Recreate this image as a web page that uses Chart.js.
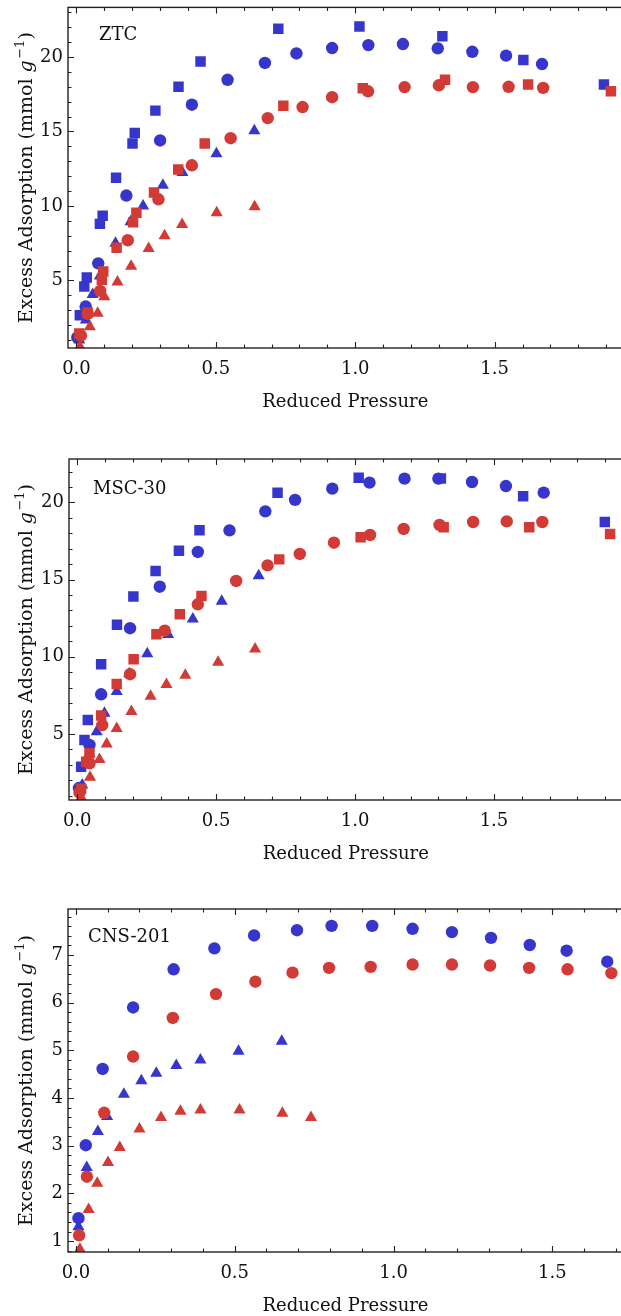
<!DOCTYPE html>
<html>
<head>
<meta charset="utf-8">
<script src="https://cdn.jsdelivr.net/npm/chart.js@4.4.1/dist/chart.umd.min.js"></script>
<style>
  html, body { margin: 0; padding: 0; background: #fff; }
  body { width: 621px; height: 1316px; position: relative; overflow: hidden; }
  .panel { position: absolute; left: 0; width: 630px; }
</style>
</head>
<body>
<div class="panel" style="top:0;height:420px"><canvas id="ztcChart" width="630" height="420"></canvas></div>
<div class="panel" style="top:440px;height:430px"><canvas id="mscChart" width="630" height="430"></canvas></div>
<div class="panel" style="top:890px;height:426px"><canvas id="cnsChart" width="630" height="426"></canvas></div>
<script>
// [reduced pressure, excess adsorption] pairs

// ZTC
const ztcBlueCircles = [[0.003, 1.18], [0.033, 3.25], [0.078, 6.15], [0.179, 10.7], [0.30, 14.4], [0.414, 16.8], [0.542, 18.47], [0.676, 19.6], [0.789, 20.24], [0.917, 20.6], [1.047, 20.8], [1.171, 20.87], [1.296, 20.58], [1.42, 20.35], [1.541, 20.09], [1.67, 19.53]];
const ztcBlueSquares = [[0.012, 2.67], [0.028, 4.6], [0.037, 5.2], [0.084, 8.8], [0.094, 9.35], [0.142, 11.9], [0.201, 14.2], [0.209, 14.9], [0.283, 16.4], [0.366, 18.0], [0.445, 19.7], [0.724, 21.9], [1.015, 22.05], [1.3125, 21.4], [1.603, 19.8], [1.892, 18.15]];
const ztcBlueTriangles = [[0.01, 1.0], [0.034, 2.35], [0.058, 4.05], [0.084, 5.3], [0.14, 7.5], [0.194, 8.95], [0.239, 10.0], [0.31, 11.4], [0.38, 12.25], [0.502, 13.5], [0.638, 15.05]];
const ztcRedCircles = [[0.016, 1.3], [0.04, 2.75], [0.085, 4.3], [0.184, 7.7], [0.294, 10.45], [0.414, 12.73], [0.553, 14.55], [0.686, 15.9], [0.811, 16.64], [0.917, 17.3], [1.046, 17.7], [1.177, 17.98], [1.30, 18.1], [1.422, 17.98], [1.55, 18.0], [1.674, 17.93]];
const ztcRedSquares = [[0.01, 1.44], [0.04, 2.85], [0.091, 5.05], [0.096, 5.6], [0.144, 7.2], [0.203, 8.9], [0.215, 9.55], [0.278, 10.9], [0.365, 12.45], [0.46, 14.2], [0.742, 16.73], [1.027, 17.9], [1.322, 18.47], [1.62, 18.15], [1.917, 17.7]];
const ztcRedTriangles = [[0.0125, 0.55], [0.048, 1.9], [0.076, 2.8], [0.1, 3.9], [0.147, 4.9], [0.196, 5.95], [0.259, 7.15], [0.316, 8.0], [0.379, 8.75], [0.503, 9.55], [0.639, 9.95]];

// MSC-30
const mscBlueCircles = [[0.006, 1.5], [0.044, 4.29], [0.086, 7.57], [0.19, 11.85], [0.297, 14.54], [0.434, 16.79], [0.548, 18.19], [0.677, 19.42], [0.784, 20.16], [0.918, 20.89], [1.052, 21.28], [1.178, 21.54], [1.30, 21.54], [1.421, 21.32], [1.543, 21.06], [1.679, 20.63]];
const mscBlueSquares = [[0.014, 2.88], [0.026, 4.61], [0.038, 5.9], [0.086, 9.51], [0.143, 12.08], [0.202, 13.9], [0.282, 15.56], [0.366, 16.87], [0.44, 18.2], [0.721, 20.63], [1.013, 21.6], [1.309, 21.55], [1.605, 20.4], [1.899, 18.73]];
const mscBlueTriangles = [[0.018, 1.7], [0.044, 3.72], [0.07, 5.15], [0.098, 6.35], [0.142, 7.75], [0.187, 8.9], [0.252, 10.2], [0.327, 11.45], [0.416, 12.45], [0.52, 13.6], [0.653, 15.25]];
const mscRedCircles = [[0.008, 1.2], [0.044, 3.1], [0.09, 5.58], [0.19, 8.87], [0.315, 11.69], [0.434, 13.4], [0.572, 14.91], [0.685, 15.92], [0.801, 16.66], [0.924, 17.39], [1.054, 17.89], [1.175, 18.28], [1.304, 18.54], [1.425, 18.73], [1.546, 18.77], [1.674, 18.73]];
const mscRedSquares = [[0.014, 1.45], [0.032, 3.2], [0.044, 3.75], [0.086, 6.2], [0.142, 8.24], [0.203, 9.84], [0.285, 11.46], [0.369, 12.75], [0.447, 13.94], [0.727, 16.31], [1.02, 17.74], [1.319, 18.39], [1.627, 18.39], [1.918, 17.95]];
const mscRedTriangles = [[0.014, 0.88], [0.046, 2.2], [0.08, 3.35], [0.106, 4.35], [0.142, 5.35], [0.195, 6.45], [0.264, 7.45], [0.321, 8.2], [0.389, 8.8], [0.507, 9.65], [0.64, 10.5]];

// CNS-201 (no square series)
const cnsBlueCircles = [[0.008, 1.48], [0.031, 3.01], [0.084, 4.61], [0.18, 5.9], [0.3075, 6.7], [0.436, 7.14], [0.561, 7.41], [0.696, 7.52], [0.805, 7.61], [0.933, 7.61], [1.06, 7.55], [1.184, 7.48], [1.307, 7.36], [1.429, 7.21], [1.545, 7.09], [1.673, 6.86]];
const cnsBlueTriangles = [[0.008, 1.3], [0.034, 2.54], [0.069, 3.3], [0.098, 3.61], [0.151, 4.08], [0.206, 4.36], [0.253, 4.52], [0.316, 4.68], [0.392, 4.8], [0.512, 4.98], [0.648, 5.19]];
const cnsRedCircles = [[0.01, 1.12], [0.0345, 2.35], [0.089, 3.69], [0.18, 4.87], [0.305, 5.68], [0.441, 6.18], [0.565, 6.44], [0.682, 6.63], [0.797, 6.73], [0.928, 6.75], [1.06, 6.8], [1.184, 6.8], [1.304, 6.78], [1.427, 6.73], [1.548, 6.7], [1.686, 6.62]];
const cnsRedTriangles = [[0.0125, 0.83], [0.04, 1.66], [0.067, 2.21], [0.101, 2.65], [0.138, 2.96], [0.2, 3.35], [0.268, 3.59], [0.329, 3.72], [0.392, 3.75], [0.515, 3.75], [0.65, 3.68], [0.74, 3.59]];

// tick labels
const pressureTicks = [0, 0.5, 1.0, 1.5];
const ztcAdsorptionTicks = [5, 10, 15, 20];
const mscAdsorptionTicks = [5, 10, 15, 20];
const cnsAdsorptionTicks = [1, 2, 3, 4, 5, 6, 7];

const BLUE = '#3636cc';
const RED = '#d23b35';
const FONT = '"DejaVu Serif", serif';

Chart.defaults.font.family = FONT;
Chart.defaults.font.size = 18;
Chart.defaults.color = '#111';

const markerRadius = { circle: 6.2, rect: 7.4, triangle: 7 };

function series(points, color, style) {
    return {
        data: points.map(p => ({ x: p[0], y: p[1] })),
        pointStyle: style,
        pointRadius: markerRadius[style],
        pointHoverRadius: markerRadius[style],
        backgroundColor: color,
        borderColor: color,
        borderWidth: 0,
        showLine: false,
        clip: 0
    };
}

// frame with inward ticks on bottom, top and left, plus panel text
const framePlugin = {
    id: 'frame',
    afterDraw(chart, args, opts) {
        const { ctx, chartArea: a, scales } = chart;
        const xs = scales.x, ys = scales.y;
        ctx.save();
        ctx.strokeStyle = '#222';
        ctx.lineWidth = 1.4;
        ctx.strokeRect(a.left, a.top, a.right - a.left, a.bottom - a.top);

        ctx.lineWidth = 1.1;
        ctx.beginPath();
        const xStep = 0.1;
        for (let i = Math.ceil(xs.min / xStep); i * xStep <= xs.max; i++) {
            const v = i * xStep;
            const major = Math.abs(v * 2 - Math.round(v * 2)) < 1e-6;
            const len = major ? 6 : 3.5;
            const px = Math.round(xs.getPixelForValue(v)) + 0.5;
            ctx.moveTo(px, a.bottom); ctx.lineTo(px, a.bottom - len);
            ctx.moveTo(px, a.top); ctx.lineTo(px, a.top + len);
        }
        const yStep = opts.yMinorStep;
        for (let i = Math.ceil(ys.min / yStep); i * yStep <= ys.max; i++) {
            const v = i * yStep;
            const major = Math.abs(v / opts.yMajorStep - Math.round(v / opts.yMajorStep)) < 1e-6;
            const len = major ? 6 : 3.5;
            const py = Math.round(ys.getPixelForValue(v)) + 0.5;
            ctx.moveTo(a.left, py); ctx.lineTo(a.left + len, py);
        }
        ctx.stroke();

        // axis titles
        ctx.fillStyle = '#111';
        ctx.font = '18px ' + FONT;
        ctx.textAlign = 'center';
        ctx.textBaseline = 'alphabetic';
        ctx.fillText('Reduced Pressure', (a.left + a.right) / 2, a.bottom + 59);

        const parts = [
            { text: 'Excess Adsorption (mmol ', font: '19px ' + FONT, rise: 0, gap: 0 },
            { text: 'g', font: 'italic 19px ' + FONT, rise: 0, gap: 1.5 },
            { text: '\u22121', font: '13px ' + FONT, rise: 8, gap: 0 },
            { text: ')', font: '19px ' + FONT, rise: 0, gap: 0 }
        ];
        let total = 0;
        parts.forEach(p => { ctx.font = p.font; p.w = ctx.measureText(p.text).width; total += p.w + p.gap; });
        ctx.translate(32, (a.top + a.bottom) / 2);
        ctx.rotate(-Math.PI / 2);
        ctx.textAlign = 'left';
        let x = -total / 2;
        parts.forEach(p => {
            ctx.font = p.font;
            ctx.fillText(p.text, x, -p.rise);
            x += p.w + p.gap;
        });
        ctx.restore();

        // panel name
        ctx.save();
        ctx.fillStyle = '#111';
        ctx.font = '18px ' + FONT;
        ctx.textAlign = 'left';
        ctx.textBaseline = 'middle';
        ctx.fillText(opts.name, a.left + opts.nameDx, a.top + opts.nameDy);
        ctx.restore();
    }
};

function makePanel(id, p) {
    const datasets = [];
    if (p.redCircles) datasets.push(series(p.redCircles, RED, 'circle'));
    if (p.redSquares) datasets.push(series(p.redSquares, RED, 'rect'));
    if (p.redTriangles) datasets.push(series(p.redTriangles, RED, 'triangle'));
    if (p.blueCircles) datasets.push(series(p.blueCircles, BLUE, 'circle'));
    if (p.blueSquares) datasets.push(series(p.blueSquares, BLUE, 'rect'));
    if (p.blueTriangles) datasets.push(series(p.blueTriangles, BLUE, 'triangle'));

    return new Chart(document.getElementById(id), {
        type: 'scatter',
        data: { datasets },
        options: {
            responsive: false,
            animation: false,
            events: [],
            layout: { padding: { top: p.padTop, right: 5, left: 0, bottom: 0 } },
            plugins: {
                legend: { display: false },
                tooltip: { enabled: false },
                frame: {
                    name: p.name, nameDx: p.nameDx, nameDy: p.nameDy,
                    yMinorStep: p.yMinorStep, yMajorStep: p.yMajorStep
                }
            },
            scales: {
                x: {
                    type: 'linear',
                    min: p.xMin, max: p.xMax,
                    grid: { display: false, drawTicks: false },
                    border: { display: false },
                    afterBuildTicks: s => { s.ticks = pressureTicks.map(v => ({ value: v })); },
                    afterFit: s => {
                        s.height = p.xAxisHeight;
                        s.paddingLeft = 0; s.paddingRight = 0;
                    },
                    ticks: { padding: 11, maxRotation: 0, callback: v => v.toFixed(1) }
                },
                y: {
                    type: 'linear',
                    min: p.yMin, max: p.yMax,
                    grid: { display: false, drawTicks: false },
                    border: { display: false },
                    afterBuildTicks: s => { s.ticks = p.yTicks.map(v => ({ value: v })); },
                    afterFit: s => {
                        s.width = p.yAxisWidth;
                        s.paddingTop = 0; s.paddingBottom = 0;
                    },
                    ticks: { padding: 5, callback: v => String(v) }
                }
            }
        },
        plugins: [framePlugin]
    });
}

makePanel('ztcChart', {
    name: 'ZTC', nameDx: 31, nameDy: 28,
    blueCircles: ztcBlueCircles, blueSquares: ztcBlueSquares, blueTriangles: ztcBlueTriangles,
    redCircles: ztcRedCircles, redSquares: ztcRedSquares, redTriangles: ztcRedTriangles,
    xMin: -0.0304, xMax: 1.959, yMin: 0.467, yMax: 23.33,
    yTicks: ztcAdsorptionTicks, yMinorStep: 1, yMajorStep: 5,
    padTop: 5, xAxisHeight: 72, yAxisWidth: 68
});

makePanel('mscChart', {
    name: 'MSC-30', nameDx: 24, nameDy: 30,
    blueCircles: mscBlueCircles, blueSquares: mscBlueSquares, blueTriangles: mscBlueTriangles,
    redCircles: mscRedCircles, redSquares: mscRedSquares, redTriangles: mscRedTriangles,
    xMin: -0.0297, xMax: 1.963, yMin: 0.725, yMax: 22.81,
    yTicks: mscAdsorptionTicks, yMinorStep: 1, yMajorStep: 5,
    padTop: 19, xAxisHeight: 70, yAxisWidth: 69
});

makePanel('cnsChart', {
    name: 'CNS-201', nameDx: 20, nameDy: 28,
    blueCircles: cnsBlueCircles, blueTriangles: cnsBlueTriangles,
    redCircles: cnsRedCircles, redTriangles: cnsRedTriangles,
    xMin: -0.025, xMax: 1.7226, yMin: 0.77, yMax: 7.965,
    yTicks: cnsAdsorptionTicks, yMinorStep: 0.2, yMajorStep: 1,
    padTop: 19, xAxisHeight: 64, yAxisWidth: 68
});
</script>
</body>
</html>
